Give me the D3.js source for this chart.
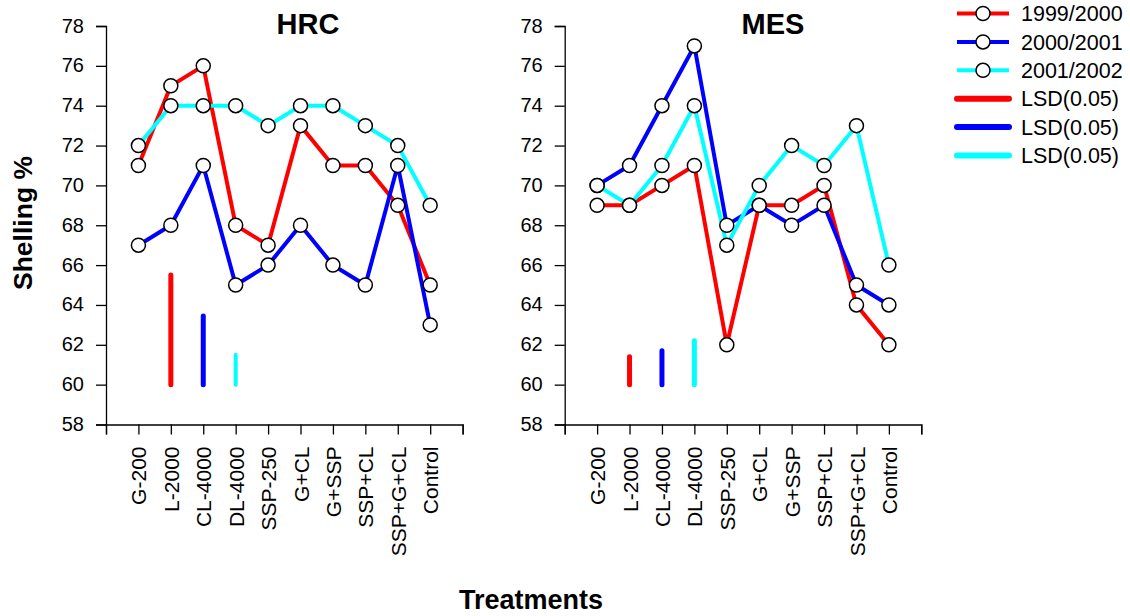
<!DOCTYPE html>
<html>
<head>
<meta charset="utf-8">
<script src="https://cdn.jsdelivr.net/npm/d3@7"></script>
<style>
  body { margin: 0; background: #fff; }
  svg { font-family: "Liberation Sans", Arial, sans-serif; }
</style>
</head>
<body>
<div id="chart"></div>
<script>
// treatments on the x axis
var treatments = ["G-200", "L-2000", "CL-4000", "DL-4000", "SSP-250", "G+CL", "G+SSP", "SSP+CL", "SSP+G+CL", "Control"];
var seasons = ["1999/2000", "2000/2001", "2001/2002"];
var colors = ["#ff0000", "#0000ff", "#00ffff"];
var yTicks = [58, 60, 62, 64, 66, 68, 70, 72, 74, 76, 78];

// shelling % per season, HRC
var hrc9900 = [71, 75, 76, 68, 67, 73, 71, 71, 69, 65];
var hrc0001 = [67, 68, 71, 65, 66, 68, 66, 65, 71, 63];
var hrc0102 = [72, 74, 74, 74, 73, 74, 74, 73, 72, 69];
// shelling % per season, MES
var mes9900 = [69, 69, 70, 71, 62, 69, 69, 70, 64, 62];
var mes0001 = [70, 71, 74, 77, 68, 69, 68, 69, 65, 64];
var mes0102 = [70, 69, 71, 74, 67, 70, 72, 71, 73, 66];

// LSD(0.05) bars: bottom value 60, top value, drawn at treatment index 1,2,3
var hrcLsd = [65.5, 63.45, 61.5];
var mesLsd = [61.4, 61.7, 62.2];

var width = 1130, height = 616;
var svg = d3.select("#chart").append("svg")
  .attr("width", width)
  .attr("height", height);

var y = d3.scaleLinear().domain([58, 78]).range([424.5, 26]);

var panels = [
  { title: "HRC", left: 106, titleX: 308, series: [hrc9900, hrc0001, hrc0102], lsd: hrcLsd, lsdW: [5, 5, 4] },
  { title: "MES", left: 564.7, titleX: 773, series: [mes9900, mes0001, mes0102], lsd: mesLsd, lsdW: [5, 5, 5] }
];

panels.forEach(function(p) {
  var x = d3.scaleLinear().domain([0, 11]).range([p.left, p.left + 356.6]);
  var g = svg.append("g");

  // y axis
  var yAxis = g.append("g")
    .attr("transform", "translate(" + p.left + ",0)")
    .call(d3.axisLeft(y).tickValues(yTicks).tickSize(10).tickPadding(12));
  yAxis.selectAll("text").style("font-size", "20px").attr("fill", "#000").attr("dy", "0.3em");

  // x axis
  var xAxis = g.append("g")
    .attr("transform", "translate(0," + y(58) + ")")
    .call(d3.axisBottom(x).tickValues(d3.range(0, 12)).tickSize(10)
      .tickFormat(function(d) { return (d >= 1 && d <= 10) ? treatments[d - 1] : ""; }));
  xAxis.selectAll("text")
    .style("font-size", "21px")
    .attr("fill", "#000")
    .attr("text-anchor", "end")
    .attr("transform", "rotate(-90)")
    .attr("x", -22)
    .attr("y", 0)
    .attr("dy", "0.36em");

  [yAxis, xAxis].forEach(function(a) {
    a.select(".domain").attr("stroke", "#000").attr("stroke-width", 1.3);
    a.selectAll(".tick line").attr("stroke", "#000").attr("stroke-width", 1.3);
  });

  // LSD bars
  p.lsd.forEach(function(top, i) {
    g.append("line")
      .attr("x1", x(i + 2)).attr("x2", x(i + 2))
      .attr("y1", y(60)).attr("y2", y(top))
      .attr("stroke", colors[i])
      .attr("stroke-width", p.lsdW[i])
      .attr("stroke-linecap", "round");
  });

  var line = d3.line()
    .x(function(d, i) { return x(i + 1); })
    .y(function(d) { return y(d); });

  // lines first, then markers
  p.series.forEach(function(s, k) {
    g.append("path")
      .datum(s)
      .attr("d", line)
      .attr("fill", "none")
      .attr("stroke", colors[k])
      .attr("stroke-width", 4)
      .attr("stroke-linejoin", "miter");
  });
  p.series.forEach(function(s, k) {
    g.selectAll(".pt" + k)
      .data(s)
      .enter()
      .append("circle")
      .attr("class", "pt" + k)
      .attr("cx", function(d, i) { return x(i + 1); })
      .attr("cy", function(d) { return y(d); })
      .attr("r", 7)
      .attr("fill", "#fff")
      .attr("stroke", "#000")
      .attr("stroke-width", 1.5);
  });

  // panel title
  g.append("text")
    .attr("x", p.titleX)
    .attr("y", 33.5)
    .attr("text-anchor", "middle")
    .style("font-size", "29px")
    .style("font-weight", "bold")
    .text(p.title);
});

// axis titles
svg.append("text")
  .attr("transform", "translate(31.5,223) rotate(-90)")
  .attr("text-anchor", "middle")
  .style("font-size", "26.5px")
  .style("font-weight", "bold")
  .text("Shelling %");

svg.append("text")
  .attr("x", 531)
  .attr("y", 609)
  .attr("text-anchor", "middle")
  .style("font-size", "27px")
  .style("font-weight", "bold")
  .text("Treatments");

// legend
var legendLabels = seasons.concat(["LSD(0.05)", "LSD(0.05)", "LSD(0.05)"]);
var legend = svg.append("g").attr("class", "legend");
legendLabels.forEach(function(lab, i) {
  var ly = 13.5 + i * 28.4;
  var c = colors[i % 3];
  legend.append("line")
    .attr("x1", 957).attr("x2", 1009)
    .attr("y1", ly).attr("y2", ly)
    .attr("stroke", c)
    .attr("stroke-width", i < 3 ? 4 : 6)
    .attr("stroke-linecap", i < 3 ? "butt" : "round");
  if (i < 3) {
    legend.append("circle")
      .attr("cx", 983).attr("cy", ly).attr("r", 7)
      .attr("fill", "#fff").attr("stroke", "#000").attr("stroke-width", 1.5);
  }
  legend.append("text")
    .attr("x", 1021)
    .attr("y", ly)
    .attr("dy", "0.36em")
    .style("font-size", "21.5px")
    .text(lab);
});
</script>
</body>
</html>
